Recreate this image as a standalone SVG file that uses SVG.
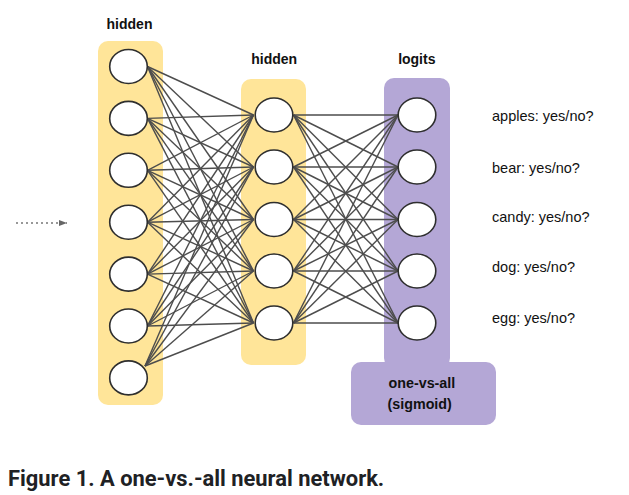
<svg xmlns="http://www.w3.org/2000/svg" width="629" height="495" viewBox="0 0 629 495">
<defs>
<style>
.yel{fill:#FFE599;}
.pur{fill:#B4A7D6;}
.node{fill:#fff;stroke:#2e2e2e;stroke-width:1.6;}
.conn line{stroke:#4d4d4d;stroke-width:1.4;}
.title{font-family:"Liberation Sans",Arial,sans-serif;font-weight:bold;font-size:14px;fill:#111;text-anchor:middle;}
.lab{font-family:"Liberation Sans",Arial,sans-serif;font-size:14.5px;fill:#111;}
.box{font-family:"Liberation Sans",Arial,sans-serif;font-weight:bold;font-size:14.3px;fill:#111;}
.cap{font-family:Roboto,"Liberation Sans",sans-serif;font-weight:bold;font-size:21.9px;fill:#202124;}
</style>
<marker id="ah" markerWidth="8" markerHeight="6" refX="8" refY="3" orient="auto" markerUnits="userSpaceOnUse">
<path d="M0,0 L8,3 L0,6 Z" fill="#666"/>
</marker>
</defs>
<rect width="629" height="495" fill="#fff"/>

<g id="layer-boxes">
<rect class="yel" x="98" y="41" width="65" height="364" rx="10"/>
<rect class="yel" x="241" y="79" width="65" height="286" rx="10"/>
<rect class="pur" x="384" y="78" width="66" height="290" rx="10"/>
<rect class="pur" x="351" y="362" width="145" height="63" rx="10"/>
</g>

<g id="input-arrow">
<line x1="16" y1="223" x2="67" y2="223" stroke="#777" stroke-width="1.6" stroke-dasharray="2 3" marker-end="url(#ah)"/>
</g>

<g class="conn" id="connectors">
<line x1="147.5" y1="66.5" x2="253.5" y2="115"/>
<line x1="147.5" y1="66.5" x2="253.5" y2="167"/>
<line x1="147.5" y1="66.5" x2="253.5" y2="219.5"/>
<line x1="147.5" y1="66.5" x2="253.5" y2="271"/>
<line x1="147.5" y1="66.5" x2="253.5" y2="323"/>
<line x1="147.5" y1="118.4" x2="253.5" y2="115"/>
<line x1="147.5" y1="118.4" x2="253.5" y2="167"/>
<line x1="147.5" y1="118.4" x2="253.5" y2="219.5"/>
<line x1="147.5" y1="118.4" x2="253.5" y2="271"/>
<line x1="147.5" y1="118.4" x2="253.5" y2="323"/>
<line x1="147.5" y1="170.3" x2="253.5" y2="115"/>
<line x1="147.5" y1="170.3" x2="253.5" y2="167"/>
<line x1="147.5" y1="170.3" x2="253.5" y2="219.5"/>
<line x1="147.5" y1="170.3" x2="253.5" y2="271"/>
<line x1="147.5" y1="170.3" x2="253.5" y2="323"/>
<line x1="147.5" y1="222.2" x2="253.5" y2="115"/>
<line x1="147.5" y1="222.2" x2="253.5" y2="167"/>
<line x1="147.5" y1="222.2" x2="253.5" y2="219.5"/>
<line x1="147.5" y1="222.2" x2="253.5" y2="271"/>
<line x1="147.5" y1="222.2" x2="253.5" y2="323"/>
<line x1="147.5" y1="274.1" x2="253.5" y2="115"/>
<line x1="147.5" y1="274.1" x2="253.5" y2="167"/>
<line x1="147.5" y1="274.1" x2="253.5" y2="219.5"/>
<line x1="147.5" y1="274.1" x2="253.5" y2="271"/>
<line x1="147.5" y1="274.1" x2="253.5" y2="323"/>
<line x1="147.5" y1="326" x2="253.5" y2="115"/>
<line x1="147.5" y1="326" x2="253.5" y2="167"/>
<line x1="147.5" y1="326" x2="253.5" y2="219.5"/>
<line x1="147.5" y1="326" x2="253.5" y2="271"/>
<line x1="147.5" y1="326" x2="253.5" y2="323"/>
<line x1="145" y1="366" x2="253.5" y2="115"/>
<line x1="145" y1="366" x2="253.5" y2="167"/>
<line x1="145" y1="366" x2="253.5" y2="219.5"/>
<line x1="145" y1="366" x2="253.5" y2="271"/>
<line x1="145" y1="366" x2="253.5" y2="323"/>

<line x1="293.5" y1="115" x2="398" y2="115"/>
<line x1="293.5" y1="115" x2="398" y2="167"/>
<line x1="293.5" y1="115" x2="398" y2="219.5"/>
<line x1="293.5" y1="115" x2="398" y2="271"/>
<line x1="293.5" y1="115" x2="398" y2="323"/>
<line x1="293.5" y1="167" x2="398" y2="115"/>
<line x1="293.5" y1="167" x2="398" y2="167"/>
<line x1="293.5" y1="167" x2="398" y2="219.5"/>
<line x1="293.5" y1="167" x2="398" y2="271"/>
<line x1="293.5" y1="167" x2="398" y2="323"/>
<line x1="293.5" y1="219.5" x2="398" y2="115"/>
<line x1="293.5" y1="219.5" x2="398" y2="167"/>
<line x1="293.5" y1="219.5" x2="398" y2="219.5"/>
<line x1="293.5" y1="219.5" x2="398" y2="271"/>
<line x1="293.5" y1="219.5" x2="398" y2="323"/>
<line x1="293.5" y1="271" x2="398" y2="115"/>
<line x1="293.5" y1="271" x2="398" y2="167"/>
<line x1="293.5" y1="271" x2="398" y2="219.5"/>
<line x1="293.5" y1="271" x2="398" y2="271"/>
<line x1="293.5" y1="271" x2="398" y2="323"/>
<line x1="293.5" y1="323" x2="398" y2="115"/>
<line x1="293.5" y1="323" x2="398" y2="167"/>
<line x1="293.5" y1="323" x2="398" y2="219.5"/>
<line x1="293.5" y1="323" x2="398" y2="271"/>
<line x1="293.5" y1="323" x2="398" y2="323"/>
</g>

<g id="layer1-hidden">
<text class="title" x="129.5" y="29">hidden</text>
<ellipse id="h1-1" class="node" cx="128.5" cy="66.5" rx="18.8" ry="17"/>
<ellipse id="h1-2" class="node" cx="128.5" cy="118.4" rx="18.8" ry="17"/>
<ellipse id="h1-3" class="node" cx="128.5" cy="170.3" rx="18.8" ry="17"/>
<ellipse id="h1-4" class="node" cx="128.5" cy="222.2" rx="18.8" ry="17"/>
<ellipse id="h1-5" class="node" cx="128.5" cy="274.1" rx="18.8" ry="17"/>
<ellipse id="h1-6" class="node" cx="128.5" cy="326" rx="18.8" ry="17"/>
<ellipse id="h1-7" class="node" cx="128.5" cy="377.9" rx="18.8" ry="17"/>
</g>

<g id="layer2-hidden">
<text class="title" x="274.2" y="64.3">hidden</text>
<ellipse id="h2-1" class="node" cx="274" cy="115" rx="18.8" ry="17"/>
<ellipse id="h2-2" class="node" cx="274" cy="167" rx="18.8" ry="17"/>
<ellipse id="h2-3" class="node" cx="274" cy="219.5" rx="18.8" ry="17"/>
<ellipse id="h2-4" class="node" cx="274" cy="271" rx="18.8" ry="17"/>
<ellipse id="h2-5" class="node" cx="274" cy="323" rx="18.8" ry="17"/>
</g>

<g id="layer3-logits">
<text class="title" x="416.8" y="64.3">logits</text>
<ellipse id="lg-1" class="node" cx="417" cy="115" rx="18.8" ry="17"/>
<ellipse id="lg-2" class="node" cx="417" cy="167" rx="18.8" ry="17"/>
<ellipse id="lg-3" class="node" cx="417" cy="219.5" rx="18.8" ry="17"/>
<ellipse id="lg-4" class="node" cx="417" cy="271" rx="18.8" ry="17"/>
<ellipse id="lg-5" class="node" cx="417" cy="323" rx="18.8" ry="17"/>
</g>

<g id="sigmoid-box">
<text class="box" x="388.5" y="388">one-vs-all</text>
<text class="box" x="387.5" y="409">(sigmoid)</text>
</g>

<g id="output-labels">
<text class="lab" x="492" y="121">apples: yes/no?</text>
<text class="lab" x="492" y="172.5">bear: yes/no?</text>
<text class="lab" x="492" y="221.5">candy: yes/no?</text>
<text class="lab" x="492" y="272">dog: yes/no?</text>
<text class="lab" x="492" y="323">egg: yes/no?</text>
</g>

<g id="caption">
<text class="cap" x="8" y="486">Figure 1. A one-vs.-all neural network.</text>
</g>
</svg>
